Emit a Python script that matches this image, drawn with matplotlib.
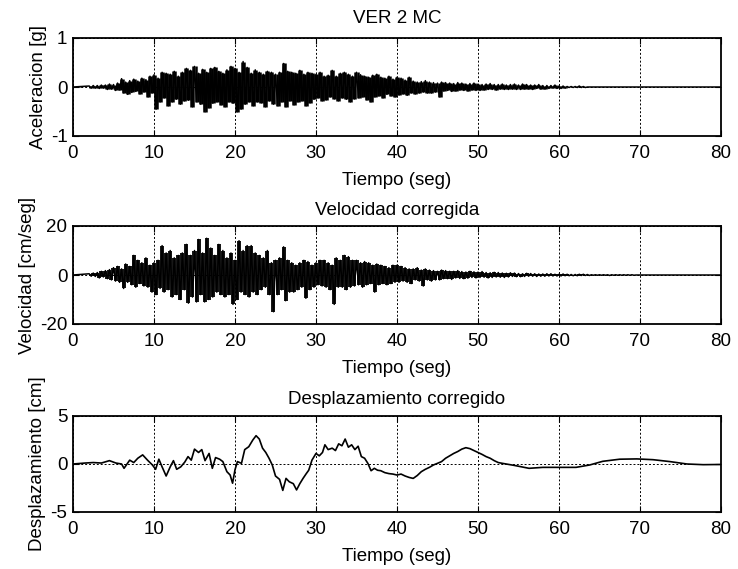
import numpy as np
import matplotlib
matplotlib.use("Agg")
import matplotlib.pyplot as plt

plt.rcParams['font.family'] = ['Liberation Sans', 'DejaVu Sans']
plt.rcParams['font.size'] = 13.5
plt.rcParams['axes.unicode_minus'] = False

# ---------------- data ----------------
# acceleration peaks (hundredths of g), one every 0.25 s starting at t = 2.0 s
accel_start = 2.0
accel_step = 0.25
accel_cg = [
    2, -2, 3, -2,   3, -3, 4, -2,   4, -5, 6, -4,   5, -7, 8, -6,
    17, -12, 10, -15,   13, -11, 16, -9,   12, -14, 18, -10,   15, -20, 22, -12,
    25, -45, 18, -30,   30, -22, 28, -38,   26, -30, 32, -25,   22, -35, 30, -28,
    38, -27, 34, -40,   42, -30, 28, -35,   36, -50, 30, -42,   38, -33, 40, -30,
    32, -36, 28, -40,   35, -30, 42, -33,   38, -50, 30, -45,   52, -35, 40, -30,
    28, -38, 35, -30,   30, -32, 26, -40,   32, -28, 30, -35,   26, -38, 30, -30,
    48, -40, 32, -28,   30, -36, 28, -30,   34, -28, 26, -38,   30, -32, 28, -25,
    26, -22, 30, -28,   22, -26, 24, -20,   34, -24, 22, -28,   28, -22, 30, -25,
    26, -30, 22, -24,   30, -22, 25, -20,   22, -26, 20, -30,   24, -20, 26, -18,
    20, -22, 18, -15,   22, -18, 16, -20,   20, -16, 18, -14,   14, -17, 20, -12,
    12, -14, 10, -12,   11, -10, 13, -12,   10, -12, 9, -10,   8, -20, 10, -8,
    9, -7, 8, -9,   7, -8, 9, -6,   8, -7, 6, -8,   7, -6, 8, -7,
    6, -7, 5, -6,   6, -5, 7, -5,   5, -6, 5, -4,   6, -5, 4, -5,
    5, -4, 6, -5,   4, -5, 6, -4,   5, -4, 4, -5,   4, -3, 5, -4,
    3, -4, 3, -3,   3, -2, 4, -3,   2, -3, 2, -2,   1, -1, 1, -1,
    1, -1, 2, -1,   1, -1, 0, 0,
]

# velocity peaks (cm/seg), one every 0.25 s starting at t = 2.0 s
vel_start = 2.0
vel_step = 0.25
vel_cms = [
    0.5, -0.5, 0.8, -0.6,   1.0, -1.2, 1.5, -0.8,   1.8, -1.5, 2.2, -2.0,
    3.0, -2.5, 3.5, -3.0,   2.5, -5.5, 4.5, -3.0,   3.5, -4.0, 8.0, -5.0,
    6.0, -3.5, 5.0, -4.5,   7.0, -5.0, 4.0, -7.0,   5.0, -8.0, 6.0, -5.5,
    12.0, -7.0, 9.0, -6.0,   10.0, -9.0, 7.0, -8.0,   8.0, -10.0, 9.0, -6.0,
    12.5, -11.5, 8.0, -9.0,   10.0, -11.0, 14.5, -8.0,   9.0, -11.0, 15.0, -10.0,
    11.0, -9.0, 8.0, -7.0,   12.5, -8.0, 10.0, -9.0,   7.0, -8.0, 9.0, -12.0,
    6.0, -10.0, 14.0, -7.0,   10.0, -8.0, 12.0, -9.0,   12.0, -7.0, 9.0, -8.0,
    8.0, -6.0, 7.0, -5.0,   10.0, -8.0, 5.0, -15.0,   6.0, -8.0, 7.0, -6.0,
    11.5, -10.5, 6.0, -7.0,   5.0, -7.0, 4.0, -6.0,   5.0, -5.0, 6.0, -9.5,
    5.5, -6.0, 4.0, -5.0,   5.0, -4.0, 6.0, -4.5,   6.0, -5.0, 5.0, -6.0,
    4.0, -12.0, 7.0, -5.0,   6.0, -5.0, 8.0, -6.0,   7.5, -5.0, 6.0, -4.5,
    6.0, -4.0, 5.0, -5.0,   5.5, -4.0, 5.0, -3.5,   4.0, -7.0, 4.5, -4.0,
    4.0, -3.5, 3.5, -4.0,   3.0, -3.5, 4.0, -3.0,   4.0, -3.0, 3.5, -2.5,
    3.0, -3.0, 2.5, -3.5,   2.5, -2.0, 3.0, -2.5,   2.0, -4.5, 2.5, -2.0,
    2.0, -2.5, 1.8, -2.0,   1.5, -2.0, 2.0, -1.5,   1.8, -1.5, 1.5, -1.8,
    1.5, -1.2, 1.8, -1.4,   1.4, -1.5, 1.2, -1.3,   1.5, -1.0, 1.3, -1.2,
    1.2, -1.0, 1.4, -0.9,   1.0, -1.2, 0.9, -1.0,   1.1, -0.8, 1.0, -0.9,
    0.8, -1.0, 0.7, -0.8,   0.9, -0.6, 0.8, -0.7,   0.6, -0.7, 0.5, -0.6,
    0.7, -0.5, 0.6, -0.5,   0.5, -0.6, 0.4, -0.5,   0.4, -0.5, 0.5, -0.4,
    0.5, -0.4, 0.3, -0.4,   0.3, -0.4, 0.4, -0.3,   0.3, -0.3, 0.2, -0.3,
    0.2, -0.3, 0.3, -0.2,   0.3, -0.2, 0.2, -0.2,   0.1, -0.1, 0.1, -0.1,
    0.1, -0.1, 0.1, -0.1,   0.1, -0.2, 0.1, -0.1,   0.1, -0.1, 0.1, -0.1,
    0.1, -0.1, 0.1, -0.1,   0.1, -0.1, 0.0, 0.0,
]

# displacement (cm) at the listed times (s)
disp_t = [
    0.0, 1.5, 2.5, 3.5, 4.5, 5.3, 6.0, 6.3, 7.0, 7.5, 8.0, 8.6, 9.2, 9.8,
    10.2, 10.6, 11.0, 11.5, 12.0, 12.4, 12.8, 13.3, 13.8, 14.2, 14.6, 15.0,
    15.5, 15.9, 16.3, 16.8, 17.2, 17.6, 18.1, 18.5, 19.0, 19.4, 19.7, 20.0,
    20.3, 20.8, 21.2, 21.7, 22.2, 22.6, 23.0, 23.4, 23.8, 24.2, 24.6, 25.0,
    25.5, 25.9, 26.3, 26.7, 27.2, 27.6, 28.0, 28.4, 28.8, 29.1, 29.5, 30.0,
    30.4, 30.8, 31.1, 31.5, 32.0, 32.4, 32.8, 33.2, 33.6, 34.0, 34.4, 34.8,
    35.2, 35.6, 36.0, 36.4, 36.8, 37.2, 37.6, 38.0, 38.5, 39.0, 39.5, 40.0,
    40.5, 41.0, 41.5, 42.0, 42.5, 43.0, 43.5, 44.0, 44.5, 45.0, 45.5, 46.0,
    46.5, 47.0, 47.5, 48.0, 48.5, 49.0, 49.5, 50.0, 50.5, 51.0, 51.5, 52.0,
    52.5, 53.0, 54.5, 56.3, 58.0, 60.0, 62.1, 63.8, 65.4, 67.5, 69.6, 71.6,
    73.7, 75.8, 77.8, 80.0,
]
disp_cm = [
    0.0, 0.1, 0.15, 0.1, 0.35, 0.1, 0.0, -0.45, 0.4, 0.15, 0.6, 0.95, 0.4, -0.1,
    -0.55, 0.5, -0.3, -1.25, -0.3, 0.35, -0.55, -0.3, 0.2, 0.77, 0.4, 1.55,
    1.2, 1.5, 0.35, 1.1, -0.45, 0.67, 0.5, 0.25, -0.8, -1.15, -2.0, -0.6,
    0.25, 0.07, 1.5, 1.8, 2.5, 2.95, 2.6, 1.65, 1.2, 0.6, -0.1, -1.25,
    -1.6, -2.75, -1.5, -1.85, -2.05, -2.7, -2.05, -1.5, -1.0, -0.65, 0.4, 1.1,
    0.85, 1.2, 2.0, 1.5, 1.65, 1.4, 2.1, 1.9, 2.6, 1.75, 2.0, 1.5,
    1.85, 0.77, 0.6, 0.07, -0.7, -0.45, -0.65, -0.7, -0.9, -1.0, -1.05, -1.15,
    -1.05, -1.25, -1.4, -1.5, -1.2, -0.8, -0.55, -0.35, -0.1, 0.07, 0.25, 0.6,
    0.85, 1.1, 1.3, 1.55, 1.7, 1.6, 1.4, 1.2, 1.0, 0.77, 0.6, 0.35,
    0.15, 0.07, -0.15, -0.45, -0.35, -0.35, -0.35, -0.1, 0.28, 0.5, 0.53, 0.45,
    0.25, 0.0, -0.07, -0.05,
]

x_ticks = [0, 10, 20, 30, 40, 50, 60, 70, 80]

# ---------------- series assembly ----------------
acc = np.array(accel_cg, dtype=float) / 100.0
t_acc = accel_start + accel_step * np.arange(acc.size)
t_acc = np.concatenate(([0.0], t_acc, [t_acc[-1] + accel_step, 80.0]))
acc = np.concatenate(([0.0], acc, [0.0, 0.0]))

vel = np.array(vel_cms, dtype=float)
t_vel = vel_start + vel_step * np.arange(vel.size)
t_vel = np.concatenate(([0.0], t_vel, [t_vel[-1] + vel_step, 80.0]))
vel = np.concatenate(([0.0], vel, [0.0, 0.0]))

# ---------------- figure ----------------
W, H = 738, 569
fig = plt.figure(figsize=(W / 100, H / 100), dpi=100)

left = 73 / W
width = (721 - 73) / W


def make_axes(top_px, bottom_px):
    return fig.add_axes([left, 1 - bottom_px / H, width, (bottom_px - top_px) / H])


# (axes, t, y, yticks, ylim, title, ylabel, title pad, line width, column width)
panels = [
    (make_axes(38, 136), t_acc, acc, [-1, 0, 1], (-1, 1),
     'VER 2 MC', 'Aceleracion [g]', 11, 1.1, 1.8),
    (make_axes(226, 324), t_vel, vel, [-20, 0, 20], (-20, 20),
     'Velocidad corregida', 'Velocidad [cm/seg]', 8, 1.1, 1.3),
    (make_axes(416, 512), np.array(disp_t), np.array(disp_cm), [-5, 0, 5], (-5, 5),
     'Desplazamiento corregido', 'Desplazamiento [cm]', 8.5, 1.2, None),
]

for ax, t, y, yt, ylim, title, ylabel, pad, lw, col_w in panels:
    if col_w:
        # min-max columns between successive samples (decimated-trace look)
        mid = 0.5 * (t[:-1] + t[1:])
        ax.vlines(mid, np.minimum(y[:-1], y[1:]), np.maximum(y[:-1], y[1:]),
                  color='black', lw=col_w, zorder=3)
    ax.plot(t, y, color='black', lw=lw, zorder=3)
    ax.set_xlim(0, 80)
    ax.set_ylim(*ylim)
    ax.set_xticks(x_ticks)
    ax.set_yticks(yt)
    ax.grid(True, color='black', linestyle=(0, (2, 2)), linewidth=0.7)
    ax.tick_params(direction='in', top=True, right=True, length=4, width=0.8,
                   labelsize=13.5, pad=4)
    ax.tick_params(axis='x', pad=6.5)
    for s in ax.spines.values():
        s.set_linewidth(1.3)
    ax.set_xlabel('Tiempo (seg)', fontsize=13.5, labelpad=7)
    ax.set_ylabel(ylabel, fontsize=13.5, labelpad=3)
    ax.set_title(title, fontsize=13.5, pad=pad)

fig.savefig('out.png', dpi=100)
